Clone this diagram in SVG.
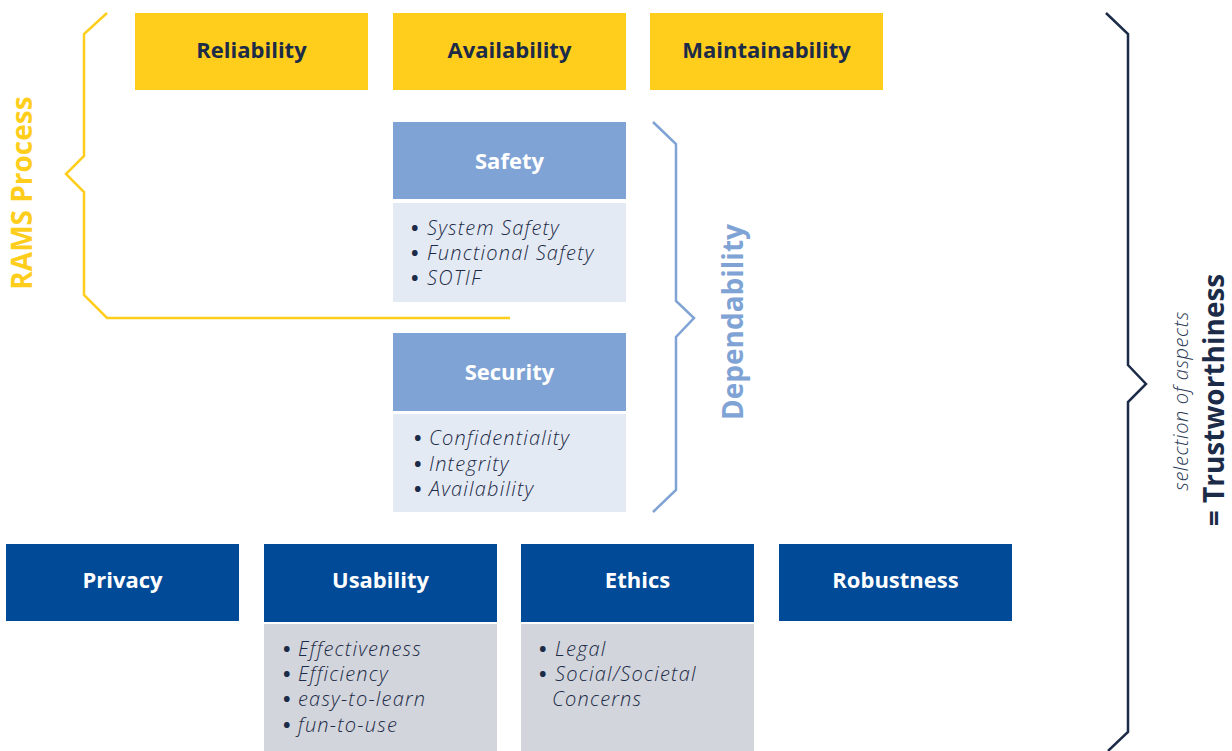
<svg xmlns="http://www.w3.org/2000/svg" width="1232" height="751" viewBox="0 0 1232 751">
<style>
.yel{fill:#FFCE1C}
.lb{fill:#7FA3D4}
.lbl{fill:#E4EAF4}
.db{fill:#004A98}
.gl{fill:#D2D5DC}
.h{font-family:"Open Sans","Liberation Sans",sans-serif;font-weight:700;font-size:22px;text-anchor:middle}
.hd{fill:#1C2B47}
.hw{fill:#FFFFFF}
.li{font-family:"Open Sans","Liberation Sans",sans-serif;font-style:italic;font-weight:300;font-size:20px;letter-spacing:1.2px;fill:#1C2B47}
.bu{font-family:"Open Sans","Liberation Sans",sans-serif;font-weight:700;font-size:20px;fill:#1C2B47}
.br{fill:none;stroke-width:2.5;stroke-linejoin:miter}
.vt{font-family:"Open Sans","Liberation Sans",sans-serif;font-weight:700;font-size:28px;text-anchor:middle}
</style>
<rect width="1232" height="751" fill="#FFFFFF"/>
<g id="connectors">
<path class="br" stroke="#FFCE1C" d="M107,13 L84,34 L84,156 L66,174 L84,192 L84,295 L107,318 L510,318"/>
<path class="br" stroke="#7FA3D4" d="M653,122 L676,144 L676,301 L694,318 L676,337 L676,490 L653,512"/>
<path class="br" stroke="#1C2B47" d="M1106,13 L1128,34 L1128,365 L1146,384 L1128,402 L1128,732 L1108,751"/>
</g>
<g id="reliability"><rect class="yel" x="135" y="13" width="233" height="77"/><text class="h hd" x="251.5" y="58">Reliability</text></g>
<g id="availability"><rect class="yel" x="393" y="13" width="233" height="77"/><text class="h hd" x="509.5" y="58">Availability</text></g>
<g id="maintainability"><rect class="yel" x="650" y="13" width="233" height="77"/><text class="h hd" x="766.5" y="58">Maintainability</text></g>
<g id="safety">
<rect class="lb" x="393" y="122" width="233" height="77"/><text class="h hw" x="509.5" y="169">Safety</text>
<rect class="lbl" x="393" y="203" width="233" height="99"/>
<text class="bu" x="411" y="235">•</text><text class="li" x="427" y="235">System Safety</text>
<text class="bu" x="411" y="260">•</text><text class="li" x="427" y="260">Functional Safety</text>
<text class="bu" x="411" y="285">•</text><text class="li" x="427" y="285">SOTIF</text>
</g>
<g id="security">
<rect class="lb" x="393" y="333" width="233" height="78"/><text class="h hw" x="509.5" y="380">Security</text>
<rect class="lbl" x="393" y="414" width="233" height="98"/>
<text class="bu" x="414" y="445">•</text><text class="li" x="429" y="445">Confidentiality</text>
<text class="bu" x="414" y="471">•</text><text class="li" x="429" y="471">Integrity</text>
<text class="bu" x="414" y="496">•</text><text class="li" x="429" y="496">Availability</text>
</g>
<g id="privacy"><rect class="db" x="6" y="544" width="233" height="77"/><text class="h hw" x="122.5" y="588">Privacy</text></g>
<g id="usability">
<rect class="db" x="264" y="544" width="233" height="78"/><text class="h hw" x="380.5" y="588">Usability</text>
<rect class="gl" x="264" y="624" width="233" height="127"/>
<text class="bu" x="283" y="656">•</text><text class="li" x="298" y="656">Effectiveness</text>
<text class="bu" x="283" y="681">•</text><text class="li" x="298" y="681">Efficiency</text>
<text class="bu" x="283" y="706">•</text><text class="li" x="298" y="706">easy-to-learn</text>
<text class="bu" x="283" y="732">•</text><text class="li" x="298" y="732">fun-to-use</text>
</g>
<g id="ethics">
<rect class="db" x="521" y="544" width="233" height="78"/><text class="h hw" x="637.5" y="588">Ethics</text>
<rect class="gl" x="521" y="624" width="233" height="127"/>
<text class="bu" x="539" y="656">•</text><text class="li" x="555" y="656">Legal</text>
<text class="bu" x="539" y="681">•</text><text class="li" x="555" y="681">Social/Societal</text>
<text class="li" x="552" y="706">Concerns</text>
</g>
<g id="robustness"><rect class="db" x="779" y="544" width="233" height="77"/><text class="h hw" x="895.5" y="588">Robustness</text></g>
<g id="rams-label"><text class="vt" fill="#FFCE1C" transform="translate(32,193) rotate(-90)">RAMS Process</text></g>
<g id="dependability-label"><text class="vt" fill="#7FA3D4" transform="translate(743,322) rotate(-90)">Dependability</text></g>
<g id="trustworthiness-label">
<text font-family="'Open Sans','Liberation Sans',sans-serif" font-style="italic" font-weight="300" font-size="20" letter-spacing="0.6" fill="#2B3A55" text-anchor="middle" transform="translate(1188,401) rotate(-90)">selection of aspects</text>
<text class="vt" fill="#1C2B47" font-size="27" transform="translate(1224,400) rotate(-90)">= Trustworthiness</text>
</g>
</svg>
